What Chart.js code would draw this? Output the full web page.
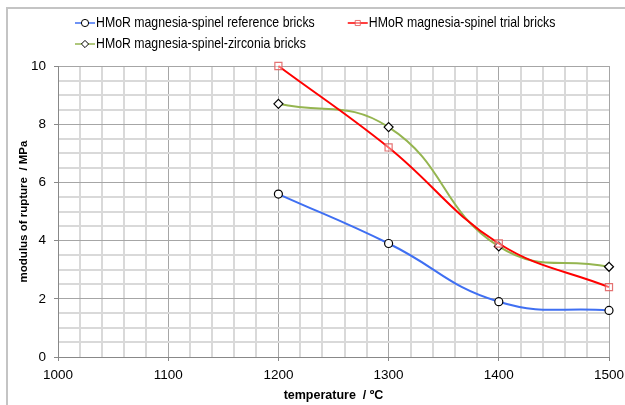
<!DOCTYPE html>
<html>
<head>
<meta charset="utf-8">
<script src="https://cdn.jsdelivr.net/npm/chart.js@4.4.1/dist/chart.umd.min.js"></script>
<style>
  html, body { margin: 0; padding: 0; background: #fff; }
  #wrap { width: 625px; height: 405px; position: relative; }
</style>
</head>
<body>
<div id="wrap"><canvas id="chart"></canvas></div>
<script>
// values
const temperatures = [1200, 1300, 1400, 1500];
const referenceBricks = [5.6, 3.9, 1.9, 1.6];
const trialBricks = [10, 7.2, 3.9, 2.4];
const zirconiaBricks = [8.7, 7.9, 3.8, 3.1];

const seriesNames = [
  'HMoR magnesia-spinel reference bricks',
  'HMoR magnesia-spinel trial bricks',
  'HMoR magnesia-spinel-zirconia bricks'
];

const xTickLabels = [1000, 1100, 1200, 1300, 1400, 1500];
const yTickLabels = [0, 2, 4, 6, 8, 10];

const FONT = "'Liberation Sans', Arial, sans-serif";
const MAJOR_GRID = '#a6a6a6';
const MINOR_GRID = '#d9d9d9';

Chart.defaults.font.family = FONT;
Chart.defaults.color = '#000';

function isMajor(list, v) {
  return list.some(t => Math.abs(t - v) < 1e-6);
}

function toPoints(ys) {
  return temperatures.map((t, i) => ({ x: t, y: ys[i] }));
}

function drawMarker(ctx, style, x, y, r) {
  ctx.beginPath();
  if (style === 'circle') {
    ctx.arc(x, y, r, 0, Math.PI * 2);
  } else if (style === 'rect') {
    const s = r * Math.SQRT1_2;
    ctx.rect(x - s, y - s, 2 * s, 2 * s);
  } else {
    ctx.moveTo(x - r, y);
    ctx.lineTo(x, y - r);
    ctx.lineTo(x + r, y);
    ctx.lineTo(x, y + r);
    ctx.closePath();
  }
  ctx.fill();
  ctx.stroke();
}

// frame + two-row legend like the original (narrow text)
const frameAndLegend = {
  id: 'frameAndLegend',
  afterDraw(chart) {
    const ctx = chart.ctx;
    ctx.save();
    ctx.strokeStyle = '#c4c4c4';
    ctx.lineWidth = 2;
    ctx.beginPath();
    ctx.moveTo(7, 405);
    ctx.lineTo(7, 8);
    ctx.lineTo(625, 8);
    ctx.stroke();

    const squeeze = 0.82;
    ctx.font = '15px ' + FONT;
    ctx.textBaseline = 'middle';
    const rows = [[0, 1], [2]];
    rows.forEach((row, r) => {
      let x = 75;
      const y = 23 + r * 21;
      row.forEach(i => {
        const ds = chart.data.datasets[i];
        ctx.strokeStyle = ds.borderColor;
        ctx.lineWidth = 1.5;
        ctx.beginPath();
        ctx.moveTo(x, y);
        ctx.lineTo(x + 20, y);
        ctx.stroke();
        ctx.fillStyle = ds.pointBackgroundColor;
        ctx.strokeStyle = ds.pointBorderColor;
        ctx.lineWidth = 1;
        drawMarker(ctx, ds.pointStyle, x + 10, y, 3.6);
        ctx.fillStyle = '#000';
        ctx.save();
        ctx.translate(x + 21, y);
        ctx.scale(squeeze, 1);
        ctx.fillText(ds.label, 0, 0);
        ctx.restore();
        x += 21 + ctx.measureText(ds.label).width * squeeze + 33;
      });
    });
    ctx.restore();
  }
};

const ctx = document.getElementById('chart').getContext('2d');
const chart = new Chart(ctx, {
  type: 'line',
  data: {
    datasets: [
      {
        label: seriesNames[0],
        data: toPoints(referenceBricks),
        borderColor: '#3f6ff2',
        borderWidth: 2,
        pointStyle: 'circle',
        pointRadius: 4,
        pointBackgroundColor: '#fff',
        pointBorderColor: '#000',
        pointBorderWidth: 1.2,
        tension: 0.45,
        clip: false
      },
      {
        label: seriesNames[1],
        data: toPoints(trialBricks),
        borderColor: '#ff0000',
        borderWidth: 2,
        pointStyle: 'rect',
        pointRadius: 5,
        pointBackgroundColor: 'rgba(255,255,255,0.4)',
        pointBorderColor: 'rgba(225,90,90,0.85)',
        pointBorderWidth: 1.2,
        tension: 0.4,
        clip: false
      },
      {
        label: seriesNames[2],
        data: toPoints(zirconiaBricks),
        borderColor: '#95b550',
        borderWidth: 2,
        pointStyle: 'rectRot',
        pointRadius: 4.5,
        pointBackgroundColor: '#fff',
        pointBorderColor: '#000',
        pointBorderWidth: 1.2,
        tension: 0.45,
        clip: false
      }
    ]
  },
  options: {
    responsive: true,
    maintainAspectRatio: false,
    animation: false,
    layout: { padding: { top: 66, left: 8, right: 16, bottom: 0 } },
    plugins: {
      legend: { display: false },
      tooltip: { enabled: false }
    },
    scales: {
      x: {
        type: 'linear',
        min: 1000,
        max: 1500,
        afterFit: scale => {
          scale.height = 48;
          scale.paddingLeft = 0;
          scale.paddingRight = 0;
        },
        ticks: {
          stepSize: 20,
          autoSkip: false,
          maxRotation: 0,
          padding: 6,
          font: { size: 13.5 },
          callback: v => isMajor(xTickLabels, v) ? String(v) : ''
        },
        grid: {
          color: c => isMajor(xTickLabels, c.tick.value) ? MAJOR_GRID : MINOR_GRID,
          lineWidth: c => isMajor(xTickLabels, c.tick.value) ? 1 : 2,
          tickColor: c => isMajor(xTickLabels, c.tick.value) ? '#888' : 'rgba(0,0,0,0)',
          tickLength: 4
        },
        border: { color: '#888', width: 1 },
        title: {
          display: true,
          text: 'temperature  / ºC',
          font: { size: 12.5, weight: 'bold' },
          padding: { top: 0, bottom: 2 }
        }
      },
      y: {
        min: 0,
        max: 10,
        afterFit: scale => { scale.width = 50; },
        ticks: {
          stepSize: 0.5,
          autoSkip: false,
          padding: 8,
          font: { size: 13.5 },
          callback: v => isMajor(yTickLabels, v) ? String(v) : ''
        },
        grid: {
          color: c => isMajor(yTickLabels, c.tick.value) ? MAJOR_GRID : MINOR_GRID,
          lineWidth: c => isMajor(yTickLabels, c.tick.value) ? 1 : 2,
          tickColor: c => isMajor(yTickLabels, c.tick.value) ? '#888' : 'rgba(0,0,0,0)',
          tickLength: 4
        },
        border: { color: '#888', width: 1 },
        title: {
          display: true,
          text: 'modulus of rupture  / MPa',
          font: { size: 11.5, weight: 'bold' },
          padding: { top: 9, bottom: 0 }
        }
      }
    }
  },
  plugins: [frameAndLegend]
});
</script>
</body>
</html>
